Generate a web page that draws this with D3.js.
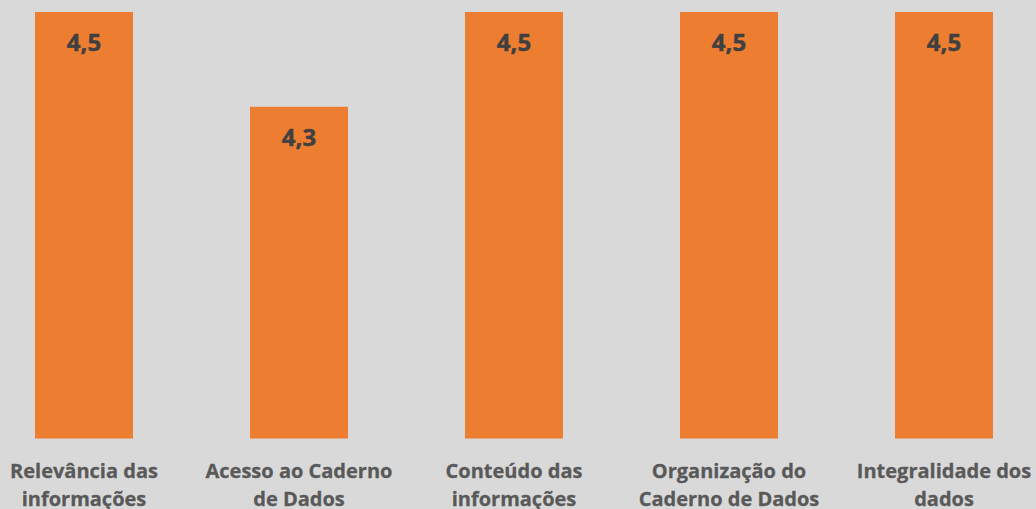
<!DOCTYPE html>
<html>
<head>
<meta charset="utf-8">
<script src="https://cdn.jsdelivr.net/npm/d3@7"></script>
<style>
  html, body { margin: 0; padding: 0; background: #d9d9d9; }
  svg { display: block; }
</style>
</head>
<body>
<svg id="chart"></svg>
<script>
// chart data
const categories = [
    ['Relevância das', 'informações'],
    ['Acesso ao Caderno', 'de Dados'],
    ['Conteúdo das', 'informações'],
    ['Organização do', 'Caderno de Dados'],
    ['Integralidade dos', 'dados']
];
const values = [4.5, 4.3, 4.5, 4.5, 4.5];
const valueLabels = ['4,5', '4,3', '4,5', '4,5', '4,5'];

const width = 1036;
const height = 509;

const svg = d3.select('#chart')
    .attr('width', width)
    .attr('height', height);

svg.append('rect')
    .attr('width', width)
    .attr('height', height)
    .attr('fill', '#d9d9d9');

const keys = categories.map(c => c.join(' '));

// plot area runs a bit past the window edges, like the original
const x = d3.scaleBand()
    .domain(keys)
    .range([-23.5, 1051.5])
    .paddingInner(117 / 215)
    .paddingOuter(117 / 430);

const y = d3.scaleLinear()
    .domain([3.6, 4.5])
    .range([438.5, 12]);

// bars
svg.append('g')
    .selectAll('rect')
    .data(values)
    .enter().append('rect')
    .attr('x', (d, i) => x(keys[i]))
    .attr('y', d => y(d))
    .attr('width', x.bandwidth())
    .attr('height', d => y(3.6) - y(d))
    .attr('fill', '#ed7d31');

// value labels inside the bars
svg.append('g')
    .selectAll('text')
    .data(values)
    .enter().append('text')
    .attr('x', (d, i) => x(keys[i]) + x.bandwidth() / 2)
    .attr('y', d => y(d) + 39)
    .attr('text-anchor', 'middle')
    .attr('font-family', '"Open Sans", sans-serif')
    .attr('font-weight', 'bold')
    .attr('font-size', '24px')
    .attr('fill', '#404040')
    .attr('stroke', '#404040')
    .attr('stroke-width', 0.4)
    .text((d, i) => valueLabels[i]);

// category labels, two lines each
const catLabel = svg.append('g')
    .selectAll('text')
    .data(categories)
    .enter().append('text')
    .attr('x', (d, i) => x(keys[i]) + x.bandwidth() / 2)
    .attr('y', 478)
    .attr('text-anchor', 'middle')
    .attr('font-family', '"Open Sans", sans-serif')
    .attr('font-weight', 'bold')
    .attr('font-size', '20px')
    .attr('fill', '#595959')
    .attr('stroke', '#595959')
    .attr('stroke-width', 0.3);

catLabel.selectAll('tspan')
    .data(d => d)
    .enter().append('tspan')
    .attr('x', function() { return d3.select(this.parentNode).attr('x'); })
    .attr('dy', (d, i) => i === 0 ? 0 : 28)
    .text(d => d);
</script>
</body>
</html>
